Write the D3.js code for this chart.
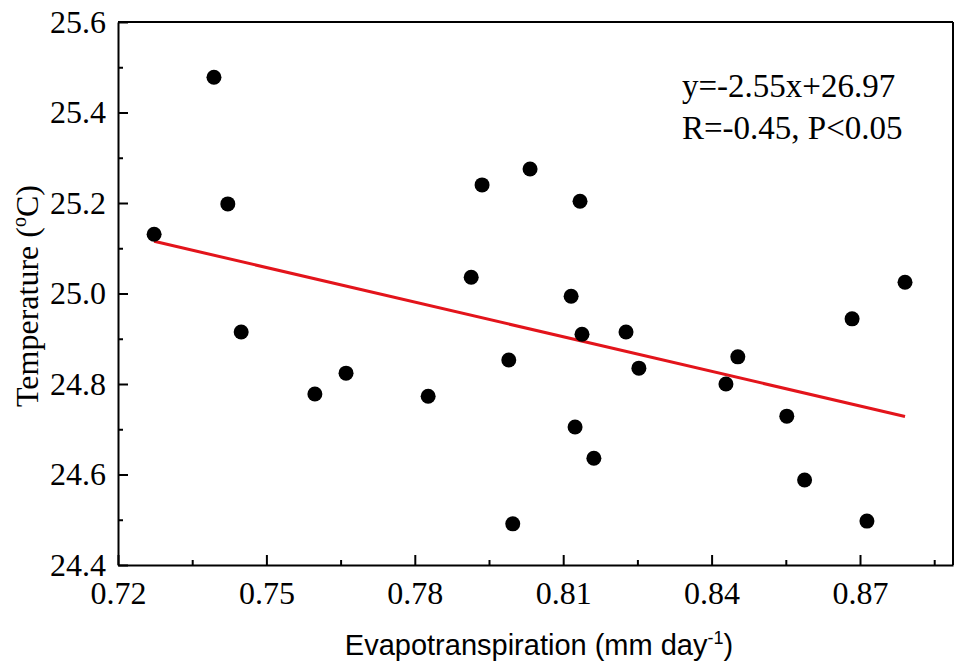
<!DOCTYPE html>
<html>
<head>
<meta charset="utf-8">
<script src="https://cdn.jsdelivr.net/npm/d3@7"></script>
<style>
  body { margin: 0; background: #fff; }
  svg { display: block; }
</style>
</head>
<body>
<svg id="chart" width="956" height="668"></svg>
<script>
// Evapotranspiration (x) vs temperature (y)
const etValues = [0.7273, 0.7394, 0.7422, 0.7449, 0.7598, 0.7661, 0.7827, 0.7914, 0.7936,
    0.7990, 0.7998, 0.8033, 0.8116, 0.8124, 0.8134, 0.8138, 0.8162, 0.8227, 0.8253,
    0.8429, 0.8453, 0.8552, 0.8588, 0.8684, 0.8714, 0.8791];
const tempValues = [25.131, 25.478, 25.198, 24.915, 24.778, 24.824, 24.773, 25.036, 25.240,
    24.853, 24.491, 25.275, 24.994, 24.705, 25.204, 24.910, 24.636, 24.915, 24.835,
    24.800, 24.860, 24.729, 24.588, 24.944, 24.497, 25.025];

// Fit reported on the chart
const slope = -2.55;
const intercept = 26.97;
const fitLabels = ["y=-2.55x+26.97", "R=-0.45, P<0.05"];

const xTicks = [0.72, 0.75, 0.78, 0.81, 0.84, 0.87];
const xMinorTicks = [0.735, 0.765, 0.795, 0.825, 0.855, 0.885];
const yTicks = [24.4, 24.6, 24.8, 25.0, 25.2, 25.4, 25.6];
const yMinorTicks = [24.5, 24.7, 24.9, 25.1, 25.3, 25.5];

const data = etValues.map((d, i) => ({ x: d, y: tempValues[i] }));

const svg = d3.select("#chart");
const margin = { top: 22, right: 3, bottom: 103, left: 118 };
const width = +svg.attr("width") - margin.left - margin.right;
const height = +svg.attr("height") - margin.top - margin.bottom;

const g = svg.append("g")
    .attr("transform", `translate(${margin.left},${margin.top})`);

const x = d3.scaleLinear()
    .domain([0.72, 0.8888])
    .range([0, width]);

const y = d3.scaleLinear()
    .domain([24.4, 25.6])
    .range([height, 0]);

// frame (top and right)
g.append("line")
    .attr("x1", 0).attr("x2", width)
    .attr("y1", 0).attr("y2", 0)
    .attr("stroke", "#000").attr("stroke-width", 2);
g.append("line")
    .attr("x1", width).attr("x2", width)
    .attr("y1", 0).attr("y2", height)
    .attr("stroke", "#000").attr("stroke-width", 2);

// x axis, ticks pointing inward
const xAxis = g.append("g")
    .attr("transform", `translate(0,${height})`)
    .call(d3.axisBottom(x).tickValues(xTicks).tickSize(-10).tickSizeOuter(0)
        .tickPadding(16).tickFormat(d3.format(".2f")));
xAxis.append("g")
    .call(d3.axisBottom(x).tickValues(xMinorTicks).tickSize(-5).tickSizeOuter(0).tickFormat(""))
    .select(".domain").remove();

// y axis
const yAxis = g.append("g")
    .call(d3.axisLeft(y).tickValues(yTicks).tickSize(-10).tickSizeOuter(0)
        .tickPadding(12).tickFormat(d3.format(".1f")));
yAxis.append("g")
    .call(d3.axisLeft(y).tickValues(yMinorTicks).tickSize(-5).tickSizeOuter(0).tickFormat(""))
    .select(".domain").remove();

g.selectAll(".domain").attr("stroke", "#000").attr("stroke-width", 2);
g.selectAll(".tick line").attr("stroke", "#000").attr("stroke-width", 2);
g.selectAll(".tick text")
    .attr("fill", "#000")
    .style("font-family", "'Liberation Serif', 'Times New Roman', serif")
    .style("font-size", "32px");

// regression line over the data range
const xExtent = d3.extent(etValues);
g.append("line")
    .attr("x1", x(xExtent[0]))
    .attr("y1", y(slope * xExtent[0] + intercept))
    .attr("x2", x(xExtent[1]))
    .attr("y2", y(slope * xExtent[1] + intercept))
    .attr("stroke", "#e3141b")
    .attr("stroke-width", 3);

// points
g.selectAll("circle")
    .data(data)
    .enter()
    .append("circle")
    .attr("cx", d => x(d.x))
    .attr("cy", d => y(d.y))
    .attr("r", 7.5)
    .style("fill", "#000");

// fit annotation
g.selectAll(".fit")
    .data(fitLabels)
    .enter()
    .append("text")
    .attr("class", "fit")
    .attr("x", 564)
    .attr("y", (d, i) => 75 + i * 42)
    .style("font-family", "'Liberation Serif', 'Times New Roman', serif")
    .style("font-size", "33px")
    .text(d => d);

// x axis title
const xTitle = svg.append("text")
    .attr("x", 539)
    .attr("y", 655)
    .attr("text-anchor", "middle")
    .style("font-family", "'Liberation Sans', Arial, sans-serif")
    .style("font-size", "29px");
xTitle.append("tspan").text("Evapotranspiration (mm day");
xTitle.append("tspan").attr("dy", -11).style("font-size", "18px").text("-1");
xTitle.append("tspan").attr("dy", 11).text(")");

// y axis title
const yTitle = svg.append("text")
    .attr("transform", "translate(38,296) rotate(-90)")
    .attr("text-anchor", "middle")
    .style("font-family", "'Liberation Serif', 'Times New Roman', serif")
    .style("font-size", "32px");
yTitle.append("tspan").text("Temperature (");
yTitle.append("tspan").attr("dy", -12).style("font-size", "20px").text("o");
yTitle.append("tspan").attr("dy", 12).text("C)");
</script>
</body>
</html>
